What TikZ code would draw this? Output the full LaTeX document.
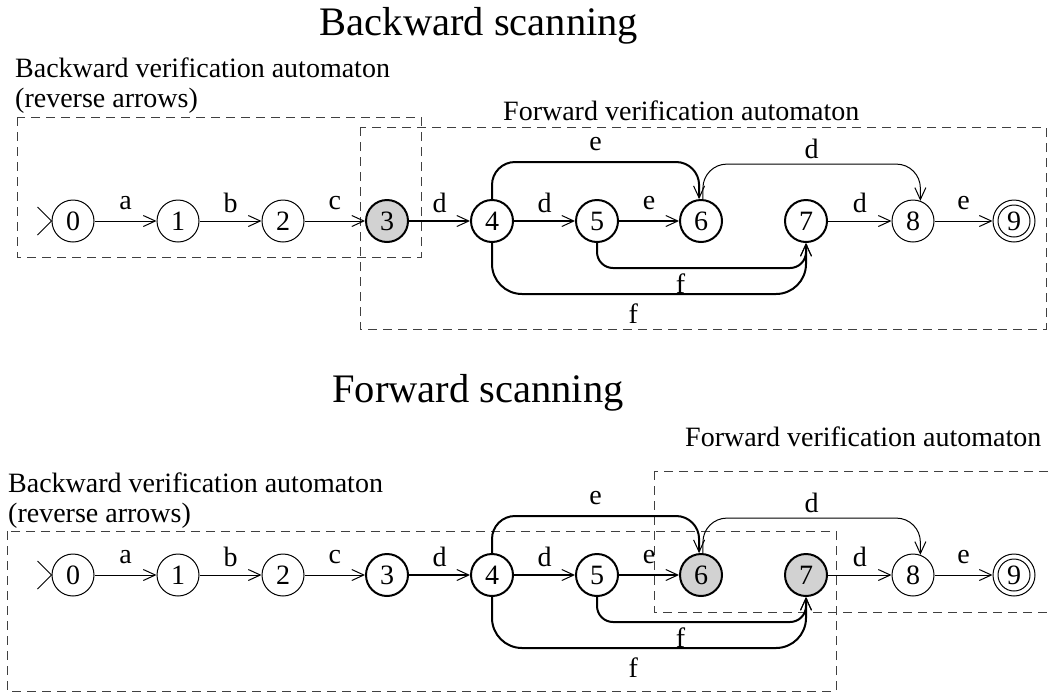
\documentclass[tikz,border=0pt]{standalone}
\usepackage{fontspec}
\setmainfont{Liberation Serif}
\usetikzlibrary{arrows.meta,calc}
\begin{document}
\begin{tikzpicture}[x=1pt,y=-1pt,
  lbl/.style={font=\fontsize{28}{30}\selectfont, inner sep=0pt},
  ttl/.style={font=\fontsize{40.5}{44}\selectfont, inner sep=0pt, anchor=base},
  captxt/.style={font=\fontsize{28}{30}\selectfont, inner sep=0pt, anchor=base west},
  statenode/.style={circle, draw, line width=1pt, minimum size=42pt, inner sep=0pt, font=\fontsize{28}{30}\selectfont},
  boldstate/.style={statenode, line width=2pt},
  hotfill/.style={fill=gray!35},
  arrtip/.style={-{Straight Barb[length=12pt,width=11pt,line width=1pt]}},
  thinedge/.style={line width=1pt, arrtip},
  thickedge/.style={line width=2pt, arrtip},
  regionbox/.style={draw=black!75, line width=1pt, dash pattern=on 9pt off 6pt},
  ]
\useasboundingbox (0,0) rectangle (1049,694);
\clip (0,0) rectangle (1049,694);

% ---------- Backward scanning ----------
\node[ttl] (title1) at (479,35) {Backward scanning};
\node[captxt] (bwtext1) at (15,77) {Backward verification automaton};
\node[captxt] (bwtext1b) at (15,107) {(reverse arrows)};
\node[captxt] (fwtext1) at (503,120) {Forward verification automaton};
\draw[regionbox] (17,117) rectangle (421,257);
\draw[regionbox] (360,127) rectangle (1046,329);

\node[statenode] (t0) at (73,221) {0};
\node[statenode] (t1) at (178,221) {1};
\node[statenode] (t2) at (283,221) {2};
\node[boldstate,hotfill] (t3) at (387,221) {3};
\node[boldstate] (t4) at (492,221) {4};
\node[boldstate] (t5) at (597,221) {5};
\node[boldstate] (t6) at (701,221) {6};
\node[boldstate] (t7) at (806,221) {7};
\node[statenode] (t8) at (913,221) {8};
\node[statenode] (t9) at (1014,221) {9};
\draw[line width=1pt] (t9.center) circle[radius=16pt];
\draw[line width=1pt] ($(t0.west)+(-14,-14)$) -- (t0.west) -- ($(t0.west)+(-14,14)$);

\draw[thinedge] (t0) -- node[lbl, yshift=18pt] {a} (t1);
\draw[thinedge] (t1) -- node[lbl, yshift=18pt] {b} (t2);
\draw[thinedge] (t2) -- node[lbl, yshift=18pt] {c} (t3);
\draw[thickedge] (t3) -- node[lbl, yshift=18pt] {d} (t4);
\draw[thickedge] (t4) -- node[lbl, yshift=18pt] {d} (t5);
\draw[thickedge] (t5) -- node[lbl, yshift=18pt] {e} (t6);
\draw[thinedge] (t7) -- node[lbl, yshift=18pt] {d} (t8);
\draw[thinedge] (t8) -- node[lbl, yshift=18pt] {e} (t9);
\draw[thickedge, rounded corners=23pt] (t4.north) -- ++(0,-37) -| node[lbl, pos=0.25, yshift=18pt] {e} (t6.95);
\draw[thinedge, rounded corners=24pt] (t6.85) -- ++(0,-35) -| node[lbl, pos=0.25, yshift=15pt] {d} (t8.70);
\draw[thickedge, rounded corners=16pt] (t5.south) -- ++(0,25) -| node[lbl, pos=0.2, yshift=-16pt] {f} (t7.south);
\draw[thickedge, rounded corners=30pt] (t4.south) -- ++(0,51) -| node[lbl, pos=0.225, yshift=-20pt] {f} (t7.south);

% ---------- Forward scanning ----------
\node[ttl] (title2) at (478,402) {Forward scanning};
\node[captxt] (fwtext2) at (685,446) {Forward verification automaton};
\node[captxt] (bwtext2) at (8,492) {Backward verification automaton};
\node[captxt] (bwtext2b) at (8,522) {(reverse arrows)};
\draw[regionbox] (7,531) rectangle (836,691);
\draw[regionbox] (654,471) rectangle (1070,612);

\node[statenode] (b0) at (73,575) {0};
\node[statenode] (b1) at (178,575) {1};
\node[statenode] (b2) at (283,575) {2};
\node[boldstate] (b3) at (387,575) {3};
\node[boldstate] (b4) at (492,575) {4};
\node[boldstate] (b5) at (597,575) {5};
\node[boldstate,hotfill] (b6) at (701,575) {6};
\node[boldstate,hotfill] (b7) at (806,575) {7};
\node[statenode] (b8) at (913,575) {8};
\node[statenode] (b9) at (1014,575) {9};
\draw[line width=1pt] (b9.center) circle[radius=16pt];
\draw[line width=1pt] ($(b0.west)+(-14,-14)$) -- (b0.west) -- ($(b0.west)+(-14,14)$);

\draw[thinedge] (b0) -- node[lbl, yshift=18pt] {a} (b1);
\draw[thinedge] (b1) -- node[lbl, yshift=18pt] {b} (b2);
\draw[thinedge] (b2) -- node[lbl, yshift=18pt] {c} (b3);
\draw[thickedge] (b3) -- node[lbl, yshift=18pt] {d} (b4);
\draw[thickedge] (b4) -- node[lbl, yshift=18pt] {d} (b5);
\draw[thickedge] (b5) -- node[lbl, yshift=18pt] {e} (b6);
\draw[thinedge] (b7) -- node[lbl, yshift=18pt] {d} (b8);
\draw[thinedge] (b8) -- node[lbl, yshift=18pt] {e} (b9);
\draw[thickedge, rounded corners=23pt] (b4.north) -- ++(0,-37) -| node[lbl, pos=0.25, yshift=18pt] {e} (b6.95);
\draw[thinedge, rounded corners=24pt] (b6.85) -- ++(0,-35) -| node[lbl, pos=0.25, yshift=15pt] {d} (b8.70);
\draw[thickedge, rounded corners=16pt] (b5.south) -- ++(0,25) -| node[lbl, pos=0.2, yshift=-16pt] {f} (b7.south);
\draw[thickedge, rounded corners=30pt] (b4.south) -- ++(0,51) -| node[lbl, pos=0.225, yshift=-20pt] {f} (b7.south);
\end{tikzpicture}
\end{document}
